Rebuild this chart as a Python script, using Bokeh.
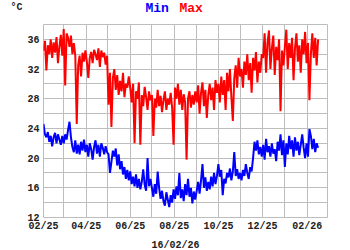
import pandas as pd
from datetime import datetime
from bokeh.plotting import figure
from bokeh.layouts import column
from bokeh.models import Range1d, FixedTicker, DatetimeTickFormatter
from bokeh.core.properties import value
from bokeh.embed import file_html
from bokeh.resources import INLINE

dates = pd.date_range("2025-02-01", "2026-02-16", freq="2D")

tmax = [
    # Feb 2025
    34.5, 35.8, 31.8, 35.2, 34.0, 36.0, 33.5, 35.6, 34.2, 36.3, 32.8, 35.0, 36.6, 33.8,
    # Mar
    37.4, 29.8, 36.8, 36.2, 35.0, 36.5, 34.0, 35.5, 33.8, 24.6, 32.5, 33.8, 31.0, 34.2, 33.0, 34.5,
    # Apr
    33.0, 30.8, 33.5, 34.3, 32.8, 34.6, 34.0, 33.2, 34.8, 32.3, 34.5, 33.6, 34.2, 32.6, 33.8,
    # May
    27.2, 31.5, 24.2, 30.8, 32.0, 29.2, 31.2, 28.5, 30.4, 29.0, 31.5, 28.2, 30.0, 29.5, 31.0,
    # Jun
    29.5, 27.5, 30.0, 22.0, 29.0, 28.0, 30.2, 21.8, 28.5, 27.0, 29.6, 28.2, 26.5, 29.0, 27.8,
    # Jul
    28.5, 23.0, 28.0, 26.8, 29.2, 27.0, 28.4, 26.2, 27.8, 29.0, 26.5, 28.0, 27.2, 28.8, 26.8, 21.8,
    # Aug
    29.5, 28.0, 30.0, 27.2, 29.2, 26.5, 28.6, 27.5, 19.8, 28.0, 29.0, 26.8, 28.5, 27.2, 29.0,
    # Sep
    27.5, 29.8, 26.0, 28.8, 30.2, 27.0, 29.2, 25.4, 28.5, 30.0, 27.8, 29.5, 26.5, 30.5, 28.8,
    # Oct
    30.0, 27.5, 31.0, 28.5, 30.5, 26.5, 31.5, 29.0, 32.0, 28.2, 25.0, 30.8, 32.5, 29.5, 33.5, 31.0,
    # Nov
    32.0, 29.5, 33.0, 31.2, 34.0, 30.5, 32.8, 28.8, 33.5, 31.8, 34.3, 30.2, 33.0, 31.5, 34.0,
    # Dec
    33.5, 36.8, 31.5, 35.5, 37.2, 32.0, 34.8, 36.5, 31.2, 35.0, 33.2, 36.0, 26.3, 34.5, 32.5,
    # Jan 2026
    35.0, 37.3, 32.0, 35.5, 33.5, 36.2, 30.5, 34.8, 36.8, 33.0, 35.2, 31.5, 36.0, 34.0, 37.0, 32.8,
    # Feb 2026
    35.5, 27.8, 34.0, 36.8, 33.5, 36.2, 32.5, 36.0,
]

tmin = [
    # Feb 2025
    24.6, 23.2, 22.8, 23.5, 22.2, 23.0, 21.6, 22.8, 23.4, 22.0, 23.2, 22.5, 21.8, 23.0,
    # Mar
    22.0, 23.2, 22.5, 23.8, 24.9, 22.8, 21.5, 20.8, 22.4, 20.6, 21.8, 20.5, 22.2, 21.0, 22.5, 20.8,
    # Apr
    21.8, 20.2, 22.0, 21.2, 19.8, 21.5, 22.4, 20.6, 21.8, 20.2, 22.0, 21.4, 20.5, 21.6, 20.8,
    # May
    20.5, 18.0, 19.5, 21.0, 20.2, 21.3, 19.0, 20.5, 18.5, 19.6, 17.8, 18.8, 17.2, 18.4, 17.0,
    # Jun
    18.2, 16.5, 17.5, 16.2, 17.8, 16.0, 17.2, 15.8, 16.8, 18.5, 16.4, 15.6, 20.0, 16.2, 17.2,
    # Jul
    16.0, 14.8, 16.5, 15.2, 18.2, 16.0, 14.5, 15.6, 14.2, 13.6, 15.4, 14.4, 13.4, 15.0, 14.0, 15.8,
    # Aug
    14.5, 16.2, 15.0, 18.0, 14.6, 15.8, 14.2, 16.5, 15.0, 17.2, 14.8, 16.0, 13.9, 15.5, 14.4,
    # Sep
    15.6, 16.8, 15.2, 17.0, 19.2, 16.0, 17.4, 15.6, 16.8, 15.8, 17.5, 16.2, 18.0, 16.5, 17.6,
    # Oct
    19.2, 17.5, 18.4, 15.0, 17.2, 16.6, 18.0, 17.4, 18.6, 17.0, 18.2, 20.8, 17.6, 18.5, 17.2, 18.0,
    # Nov
    17.0, 18.4, 17.6, 19.2, 18.0, 17.2, 18.8, 18.2, 20.0, 22.2, 21.0, 22.4, 20.5, 21.5, 20.2,
    # Dec
    21.8, 19.8, 22.6, 20.8, 21.6, 20.2, 22.0, 20.6, 21.2, 19.6, 22.2, 21.0, 23.2, 20.4, 22.4,
    # Jan 2026
    18.8, 22.0, 20.5, 23.0, 21.2, 22.4, 20.2, 22.8, 21.0, 22.2, 20.4, 21.8, 23.2, 21.4, 20.0, 22.0,
    # Feb 2026
    20.2, 23.9, 23.0, 21.2, 22.6, 20.8, 22.0, 21.4,
]

major_months = ["2025-02-01", "2025-04-01", "2025-06-01", "2025-08-01",
                "2025-10-01", "2025-12-01", "2026-02-01"]
minor_months = ["2025-03-01", "2025-05-01", "2025-07-01", "2025-09-01",
                "2025-11-01", "2026-01-01", "2026-03-01"]
y_major = [12, 16, 20, 24, 28, 32, 36]
y_minor = [14, 18, 22, 26, 30, 34, 38]
title_parts = ["Min", "Max"]
title_colors = ["#0000ff", "#ff0000"]
unit_label = "°C"
date_label = "16/02/26"

def ms(s):
    return pd.Timestamp(s).value // 10**6

GRID = "#bdbdbd"
FONT = "Liberation Mono"
TXT = "#222222"
LEFT, RIGHT = 43, 23


def strip(height, bottom_border=0):
    # frame spans the same columns as the main plot; x data == page pixel
    fh = height - bottom_border
    s = figure(width=350, height=height, output_backend="svg", toolbar_location=None,
               x_range=Range1d(LEFT, 350 - RIGHT), y_range=Range1d(fh, 0),
               min_border=0, min_border_left=LEFT, min_border_right=RIGHT,
               min_border_top=0, min_border_bottom=bottom_border)
    s.xaxis.visible = False
    s.yaxis.visible = False
    s.grid.visible = False
    s.outline_line_color = None
    s.background_fill_color = "white"
    s.border_fill_color = "white"
    return s


top = strip(24, bottom_border=11)
# the unit sits left of the frame: draw it as the strip's (tickless) axis label
ya = top.yaxis[0]
ya.visible = True
ya.ticker = FixedTicker(ticks=[])
ya.axis_line_color = None
ya.major_tick_line_color = None
ya.minor_tick_line_color = None
ya.major_tick_out = 0
ya.minor_tick_out = 0
ya.major_label_standoff = 0
ya.axis_label = unit_label
ya.axis_label_orientation = "horizontal"
ya.axis_label_standoff = 21
ya.axis_label_text_font = FONT
ya.axis_label_text_font_style = "bold"
ya.axis_label_text_font_size = "10px"
ya.axis_label_text_color = TXT

top.text(x=[145, 179], y=[0, 0], text=title_parts, text_color=title_colors,
         text_font=value(FONT), text_font_style="bold", text_font_size="13px",
         text_baseline="top")

p = figure(width=350, height=210, output_backend="svg", toolbar_location=None,
           x_axis_type="datetime",
           x_range=Range1d(datetime(2025, 2, 1), datetime(2026, 3, 1)),
           y_range=Range1d(12, 38),
           min_border_left=LEFT, min_border_right=RIGHT, min_border_top=0, min_border_bottom=17)

p.line(dates, tmax, line_color="#ff0000", line_width=2)
p.line(dates, tmin, line_color="#0000ff", line_width=2)

p.xaxis.ticker = FixedTicker(ticks=[ms(m) for m in major_months],
                             minor_ticks=[ms(m) for m in minor_months])
p.xaxis.formatter = DatetimeTickFormatter(months="%m/%y", days="%m/%y", years="%m/%y",
                                          hours="%m/%y", minutes="%m/%y")
p.yaxis.ticker = FixedTicker(ticks=y_major, minor_ticks=y_minor)

for ax in (p.xaxis, p.yaxis):
    ax.axis_line_color = None
    ax.major_tick_line_color = None
    ax.minor_tick_line_color = None
    ax.major_tick_out = 0
    ax.minor_tick_out = 0
    ax.major_label_text_font = FONT
    ax.major_label_text_font_style = "bold"
    ax.major_label_text_font_size = "10px"
    ax.major_label_text_color = TXT
p.xaxis.major_label_standoff = 3
p.yaxis.major_label_standoff = 4

for g in (p.xgrid, p.ygrid):
    g.grid_line_color = GRID
    g.grid_line_width = 1
    g.minor_grid_line_color = GRID
    g.minor_grid_line_width = 1

p.outline_line_color = GRID
p.outline_line_width = 1
p.background_fill_color = "white"
p.border_fill_color = "white"

bottom = strip(16)
bottom.text(x=[175], y=[11], text=[date_label], text_color=TXT, text_font=value(FONT),
            text_font_style="bold", text_font_size="10px", text_baseline="middle",
            text_align="center")

layout = column(top, p, bottom, spacing=0)
open("out.html", "w").write(file_html(layout, INLINE))
